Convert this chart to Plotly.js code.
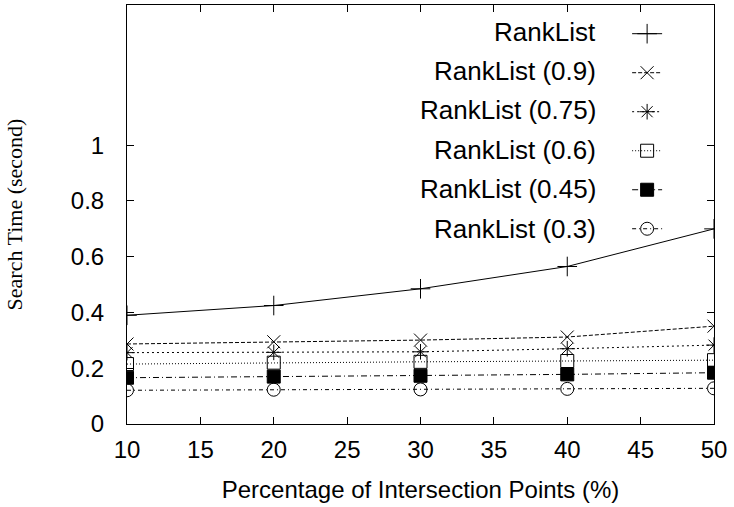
<!DOCTYPE html>
<html>
<head>
<meta charset="utf-8">
<script src="https://cdn.plot.ly/plotly-3.0.1.min.js"></script>
<style>html,body{margin:0;padding:0;background:#fff}#chart{width:734px;height:507px}</style>
</head>
<body>
<div id="chart"></div>
<script>
const xValues = [10, 20, 30, 40, 50];
const seriesNames = ["RankList", "RankList (0.9)", "RankList (0.75)", "RankList (0.6)", "RankList (0.45)", "RankList (0.3)"];
const rankList    = [0.390, 0.425, 0.485, 0.565, 0.700];
const rankList090 = [0.287, 0.295, 0.301, 0.312, 0.351];
const rankList075 = [0.256, 0.257, 0.259, 0.270, 0.283];
const rankList060 = [0.215, 0.220, 0.223, 0.226, 0.229];
const rankList045 = [0.166, 0.170, 0.173, 0.178, 0.184];
const rankList030 = [0.121, 0.123, 0.124, 0.126, 0.128];
const xTicks = [10, 15, 20, 25, 30, 35, 40, 45, 50];
const yTicks = [0, 0.2, 0.4, 0.6, 0.8, 1];
const yTickText = ["0", "0.2", "0.4", "0.6", "0.8", "1"];

const allSeries = [rankList, rankList090, rankList075, rankList060, rankList045, rankList030];
const symbols = ["cross-thin-open", "x-thin-open", "asterisk-open", "square-open", "square", "circle-open"];
const dashes = ["solid", "4px,2px", "2px,3px", "1px,2px", "6px,3px,1px,3px", "4px,3px,1px,3px"];
const sizes = [14, 13, 13, 13, 13, 13];

const traces = allSeries.map((ys, i) => ({
  x: xValues, y: ys, type: "scatter", mode: "lines+markers",
  name: "", showlegend: true,
  line: {color: "#000", width: 1, dash: dashes[i]},
  marker: {symbol: symbols[i], size: sizes[i], color: "#000", line: {color: "#000", width: 1}}
}));

const legendY = [32, 71, 110, 150, 189, 229];
const annotations = seriesNames.map((n, i) => ({
  text: n, xref: "paper", yref: "paper", x: 0.8024, y: (424 - legendY[i]) / 419.3,
  xanchor: "right", yanchor: "middle", showarrow: false,
  font: {family: "Liberation Sans, Arial, sans-serif", size: 26, color: "#000"}
}));

const layout = {
  width: 734, height: 507,
  margin: {l: 127, r: 20, t: 5, b: 83},
  paper_bgcolor: "#fff", plot_bgcolor: "#fff",
  font: {family: "Liberation Sans, Arial, sans-serif", size: 24, color: "#000"},
  showlegend: true,
  legend: {x: 0.852, y: 0.99, xanchor: "left", yanchor: "top", bgcolor: "rgba(0,0,0,0)",
           font: {size: 27.7}, itemwidth: 30},
  annotations: annotations,
  xaxis: {
    range: [10, 50], tickvals: xTicks, ticktext: xTicks.map(String),
    ticks: "inside", ticklen: 7, tickcolor: "#000", showline: true, linecolor: "#000", linewidth: 1,
    mirror: "ticks", showgrid: false, zeroline: false,
    tickfont: {size: 24}, ticklabelstandoff: 4,
    title: {text: "Percentage of Intersection Points (%)", font: {size: 24}, standoff: 19}
  },
  yaxis: {
    range: [0, 1.503], tickvals: yTicks, ticktext: yTickText,
    ticks: "inside", ticklen: 7, tickcolor: "#000", showline: true, linecolor: "#000", linewidth: 1,
    mirror: "ticks", showgrid: false, zeroline: false,
    tickfont: {size: 24}, ticklabelstandoff: 17,
    title: {text: "Search Time (second)", font: {family: "Liberation Serif, Times New Roman, serif", size: 22}, standoff: 42}
  }
};

Plotly.newPlot("chart", traces, layout, {displayModeBar: false, staticPlot: true});
</script>
</body>
</html>
